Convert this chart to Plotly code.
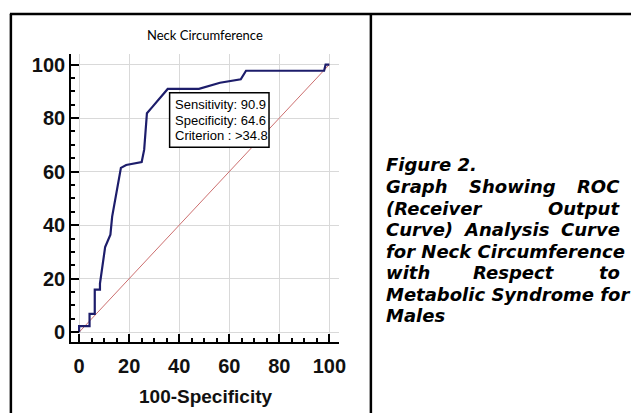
import plotly.graph_objects as go

# ---------------- data ----------------
fpr = [0, 0, 4.17, 4.17, 6.25, 6.25, 8.33, 8.33, 10.4, 12.5, 13.2, 14.6, 16.7,
       18.8, 25.0, 26.0, 27.1, 29.2, 33.3, 35.4, 47.9, 56.3, 64.6, 66.7, 97.9, 98.5, 100]
tpr = [0, 2.27, 2.27, 6.82, 6.82, 15.9, 15.9, 18.2, 31.8, 36.4, 43.2, 50.0, 61.4,
       62.5, 63.6, 68.2, 81.8, 84.1, 88.6, 90.9, 90.9, 93.2, 94.5, 97.7, 97.7, 100, 100]
diag_x = [0, 100]
diag_y = [0, 100]
tick_vals = [0, 20, 40, 60, 80, 100]
tick_text = ["0", "20", "40", "60", "80", "100"]
chart_title = "Neck Circumference"
x_title = "100-Specificity"
box_lines = ["Sensitivity: 90.9", "Specificity: 64.6", "Criterion : >34.8"]

W, H = 638, 414


def px(x):
    return x / W


def py(y):
    return 1 - y / H


fig = go.Figure()
fig.add_trace(go.Scatter(x=diag_x, y=diag_y, mode="lines",
                         line=dict(color="#cc6f6f", width=1), hoverinfo="skip"))
fig.add_trace(go.Scatter(x=fpr, y=tpr, mode="lines",
                         line=dict(color="#1d1d6b", width=2.2)))

tickfont = dict(family="Liberation Sans, Arial", size=20, color="#111111", weight="bold")
common = dict(showline=True, linecolor="black", linewidth=2,
              ticks="inside", ticklen=8, tickwidth=2, tickcolor="black",
              showgrid=True, gridcolor="#d9d9d9", gridwidth=1, zeroline=False,
              tickmode="array", tickvals=tick_vals, ticktext=tick_text,
              tickfont=tickfont,
              minor=dict(tick0=0, dtick=5, ticks="inside", ticklen=4, tickwidth=1.5,
                         tickcolor="black", showgrid=False))

fig.update_xaxes(domain=[72 / W, 343 / W], range=[-3.16, 103.95], ticklabelstandoff=5, **common)
fig.update_yaxes(domain=[(H - 343) / H, (H - 54) / H], range=[-3.73, 104], **common)

shapes = []
blk = dict(color="black", width=2.5)
shapes.append(dict(type="line", xref="paper", yref="paper", x0=px(10), x1=px(638), y0=py(14), y1=py(14), line=blk))
shapes.append(dict(type="line", xref="paper", yref="paper", x0=px(11), x1=px(11), y0=py(14), y1=py(414), line=blk))
shapes.append(dict(type="line", xref="paper", yref="paper", x0=px(375), x1=px(375), y0=py(14), y1=py(414), line=blk))
shapes.append(dict(type="rect", xref="paper", yref="paper", x0=px(171.5), x1=px(272), y0=py(93), y1=py(147.5),
                   line=dict(color="black", width=1.5), fillcolor="white", layer="above"))

ann = []
ann.append(dict(text=chart_title, x=px(207), y=py(35), xref="paper", yref="paper",
                xanchor="center", yanchor="middle", showarrow=False,
                font=dict(family="Lato", size=13, color="black")))
ann.append(dict(text=x_title, x=px(208), y=py(397), xref="paper", yref="paper",
                xanchor="center", yanchor="middle", showarrow=False,
                font=dict(family="Liberation Sans, Arial", size=19, color="#111111", weight="bold")))
for i, (t, yy) in enumerate(zip(box_lines, [105, 120.5, 136])):
    ann.append(dict(text=t, x=px(175), y=py(yy), xref="paper", yref="paper",
                    xanchor="left", yanchor="middle", showarrow=False,
                    font=dict(family="Liberation Sans, Arial", size=13, color="black")))

cap_font = dict(family="DejaVu Sans", size=18, color="black", weight="bold", style="italic")
# (text, x, anchor, y)
caption = [
    ("Figure 2.", 388, "left", 165),
    ("Graph", 388, "left", 187), ("Showing", 518, "center", 187), ("ROC", 629, "right", 187),
    ("(Receiver", 388, "left", 209), ("Output", 629, "right", 209),
    ("Curve)", 388, "left", 230), ("Analysis", 512, "center", 230), ("Curve", 629, "right", 230),
    ("for Neck Circumference", 388, "left", 252),
    ("with", 388, "left", 273), ("Respect", 520, "center", 273), ("to", 629, "right", 273),
    ("Metabolic Syndrome for", 388, "left", 295),
    ("Males", 388, "left", 316),
]
for t, xx, a, yy in caption:
    ann.append(dict(text=t, x=px(xx), y=py(yy), xref="paper", yref="paper",
                    xanchor=a, yanchor="middle", showarrow=False, font=cap_font))

fig.update_layout(width=W, height=H, autosize=False,
                  margin=dict(l=0, r=0, t=0, b=0),
                  paper_bgcolor="white", plot_bgcolor="white",
                  showlegend=False, shapes=shapes, annotations=ann)

fig.write_html("out.html", config={"displayModeBar": False},
               post_script="document.body.style.margin='0';")
